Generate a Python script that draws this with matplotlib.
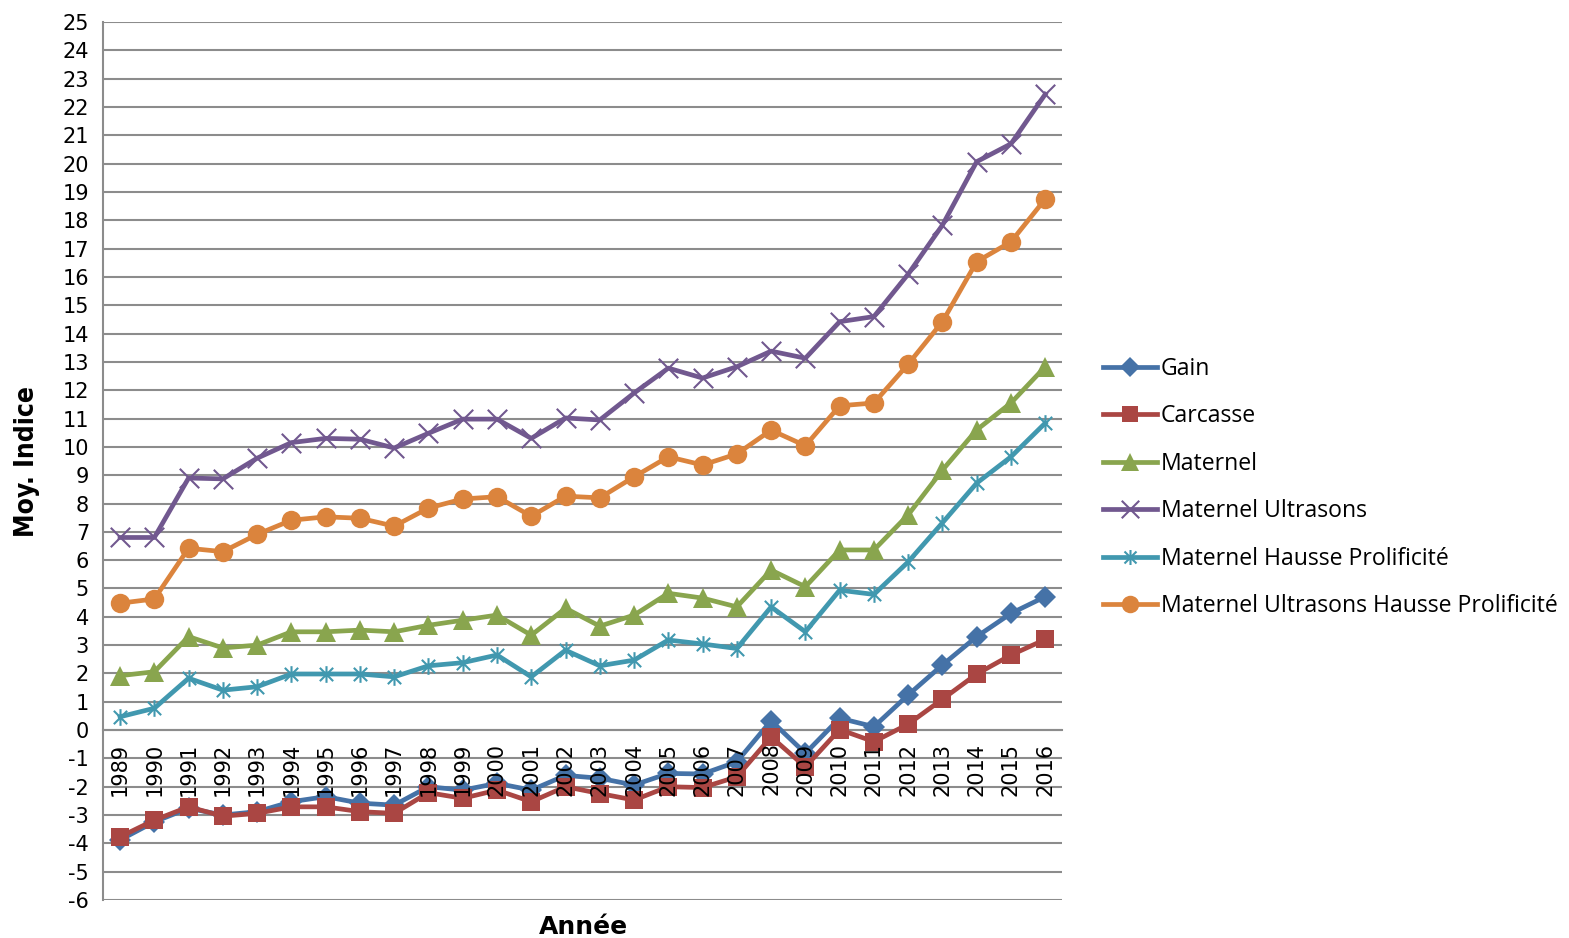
import matplotlib
matplotlib.use("Agg")
import matplotlib.pyplot as plt
from matplotlib.path import Path

plt.rcParams["axes.unicode_minus"] = False

# years on the category axis
years = list(range(1989, 2017))

gain = [-3.88, -3.24, -2.76, -3.0, -2.88, -2.53, -2.35, -2.58, -2.65, -2.0,
        -2.12, -1.88, -2.12, -1.6, -1.7, -1.94, -1.53, -1.55, -1.12, 0.33,
        -0.82, 0.42, 0.12, 1.24, 2.3, 3.3, 4.12, 4.71]
carcasse = [-3.77, -3.18, -2.71, -3.04, -2.94, -2.71, -2.71, -2.88, -2.94, -2.21,
            -2.41, -2.12, -2.53, -2.0, -2.24, -2.47, -2.0, -2.03, -1.65, -0.24,
            -1.3, 0.02, -0.41, 0.21, 1.09, 1.98, 2.65, 3.2]
maternel = [1.92, 2.06, 3.3, 2.9, 3.0, 3.47, 3.47, 3.53, 3.47, 3.7,
            3.88, 4.06, 3.35, 4.3, 3.67, 4.06, 4.83, 4.66, 4.35, 5.65,
            5.06, 6.36, 6.36, 7.6, 9.18, 10.6, 11.55, 12.83]
mat_ultra = [6.8, 6.8, 8.9, 8.87, 9.6, 10.15, 10.3, 10.27, 9.96, 10.48,
             10.98, 10.98, 10.3, 11.02, 10.95, 11.9, 12.78, 12.43, 12.83, 13.38,
             13.13, 14.42, 14.6, 16.1, 17.83, 20.07, 20.7, 22.45]
mat_hausse = [0.47, 0.77, 1.83, 1.41, 1.53, 1.98, 1.98, 1.98, 1.88, 2.27,
              2.38, 2.65, 1.88, 2.82, 2.27, 2.47, 3.18, 3.04, 2.88, 4.35,
              3.47, 4.94, 4.79, 5.94, 7.32, 8.72, 9.65, 10.84]
mat_ultra_hausse = [4.48, 4.63, 6.42, 6.3, 6.91, 7.41, 7.53, 7.48, 7.2, 7.84,
                    8.16, 8.24, 7.55, 8.26, 8.2, 8.94, 9.65, 9.36, 9.75, 10.59,
                    10.04, 11.45, 11.55, 12.92, 14.42, 16.54, 17.24, 18.75]

names = ["Gain", "Carcasse", "Maternel", "Maternel Ultrasons",
         "Maternel Hausse Prolificité", "Maternel Ultrasons Hausse Prolificité"]
series = [gain, carcasse, maternel, mat_ultra, mat_hausse, mat_ultra_hausse]
colors = ["#4572A7", "#AA4643", "#89A54E", "#71588F", "#4198AF", "#DB843D"]

# excel style star: x plus a vertical bar
star = Path([(-1, -1), (1, 1), (-1, 1), (1, -1), (0, -1.25), (0, 1.25)],
            [Path.MOVETO, Path.LINETO, Path.MOVETO, Path.LINETO, Path.MOVETO, Path.LINETO])
xmark = Path([(-1, -1), (1, 1), (-1, 1), (1, -1)],
             [Path.MOVETO, Path.LINETO, Path.MOVETO, Path.LINETO])
markers = ["D", "s", "^", xmark, star, "o"]
msizes = [11, 13, 14, 14, 12, 14]

fig = plt.figure(figsize=(15.69, 9.38), dpi=100)
ax = fig.add_axes([0.0656, 0.0405, 0.6115, 0.936])

# move the category axis to y=0 first, it resets the tick setup
ax.spines["bottom"].set_position(("data", 0))
for side in ["bottom", "left"]:
    ax.spines[side].set_color("#8c8c8c")
    ax.spines[side].set_linewidth(1.5)
    ax.spines[side].set_zorder(0.6)
ax.spines["top"].set_visible(False)
ax.spines["right"].set_visible(False)

x = list(range(len(years)))
for vals, name, col, mk, ms in zip(series, names, colors, markers, msizes):
    hollow = mk is xmark or mk is star
    ax.plot(x, vals, color=col, lw=3.4, marker=mk, markersize=ms,
            markeredgewidth=1.5 if hollow else 0, markerfacecolor=col,
            markeredgecolor=col, label=name, solid_joinstyle="round")

ax.set_xlim(-0.5, len(years) - 0.5)
ax.set_ylim(-6, 25)
ax.set_yticks(range(-6, 26))
ax.tick_params(axis="y", labelsize=15, length=0, pad=10)
ax.grid(axis="y", color="#8c8c8c", lw=1.5)
ax.set_axisbelow(True)

ax.set_xticks(x)
ax.set_xticklabels([str(y) for y in years], rotation=90, fontsize=15)
ax.tick_params(axis="x", length=0, pad=9)
# year labels sit on top of the lines, like in excel
ax.xaxis.set_zorder(5)

ax.set_ylabel("Moy. Indice", fontsize=19, fontweight="bold", labelpad=16,
              family="DejaVu Sans", fontstretch="condensed")
fig.text(0.372, 0.004, "Année", fontsize=18, fontweight="bold", ha="center", va="baseline")

leg = ax.legend(loc="center left", bbox_to_anchor=(1.021, 0.47), frameon=False,
                handlelength=2.35, labelspacing=1.02, handletextpad=0.15,
                markerscale=0.9, prop={"family": "Open Sans", "size": 16.6})

fig.savefig("out.png", dpi=100)
